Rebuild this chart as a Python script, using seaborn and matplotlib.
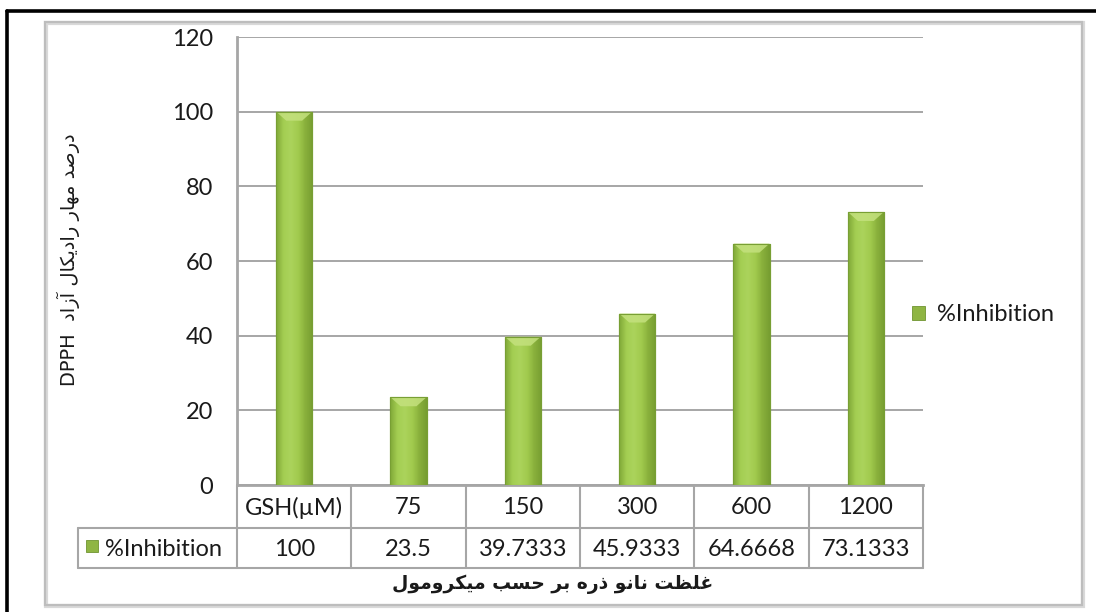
import numpy as np
import pandas as pd
import matplotlib
matplotlib.use("Agg")
import matplotlib.pyplot as plt
import seaborn as sns
from matplotlib import transforms
from matplotlib.patches import Patch, Rectangle, Polygon
from matplotlib.lines import Line2D
from matplotlib.colors import LinearSegmentedColormap
from matplotlib import font_manager
from matplotlib.ft2font import FT2Font

# ---- data -------------------------------------------------------------
categories = ["GSH(µM)", "75", "150", "300", "600", "1200"]
inhibition = [100, 23.5, 39.7333, 45.9333, 64.6668, 73.1333]
series_name = "%Inhibition"
y_ticks = [0, 20, 40, 60, 80, 100, 120]
y_title_fa = "درصد مهار رادیکال آزاد"
y_title_latin = "DPPH"
x_title_fa = "غلظت نانو ذره بر حسب میکرومول"

# ---- style ------------------------------------------------------------
sns.set_theme(style="white")
plt.rcParams["font.family"] = ["Lato", "DejaVu Sans"]
FS = 17
GRID = "#a6a6a6"
TXT = "#1a1a1a"
BAR = "#9cc64a"
BAR_EDGE = "#789f34"

# ---- simple Persian shaping (presentation forms, visual order) -------
FORMS = {
    "ا": ("\uFE8D", "\uFE8E", None, None),
    "آ": ("\uFE81", "\uFE82", None, None),
    "ب": ("\uFE8F", "\uFE90", "\uFE91", "\uFE92"),
    "ت": ("\uFE95", "\uFE96", "\uFE97", "\uFE98"),
    "ح": ("\uFEA1", "\uFEA2", "\uFEA3", "\uFEA4"),
    "د": ("\uFEA9", "\uFEAA", None, None),
    "ذ": ("\uFEAB", "\uFEAC", None, None),
    "ر": ("\uFEAD", "\uFEAE", None, None),
    "ز": ("\uFEAF", "\uFEB0", None, None),
    "س": ("\uFEB1", "\uFEB2", "\uFEB3", "\uFEB4"),
    "ص": ("\uFEB9", "\uFEBA", "\uFEBB", "\uFEBC"),
    "ظ": ("\uFEC5", "\uFEC6", "\uFEC7", "\uFEC8"),
    "غ": ("\uFECD", "\uFECE", "\uFECF", "\uFED0"),
    "ل": ("\uFEDD", "\uFEDE", "\uFEDF", "\uFEE0"),
    "م": ("\uFEE1", "\uFEE2", "\uFEE3", "\uFEE4"),
    "ن": ("\uFEE5", "\uFEE6", "\uFEE7", "\uFEE8"),
    "ه": ("\uFEE9", "\uFEEA", "\uFEEB", "\uFEEC"),
    "و": ("\uFEED", "\uFEEE", None, None),
    "ک": ("\uFB8E", "\uFB8F", "\uFB90", "\uFB91"),
    "ی": ("\uFBFC", "\uFBFD", "\uFBFE", "\uFBFF"),
}
ALT = {  # Arabic kaf / yeh forms, used when the font lacks the Persian ones
    "ک": ("\uFED9", "\uFEDA", "\uFEDB", "\uFEDC"),
    "ی": ("\uFEEF", "\uFEF0", "\uFEF3", "\uFEF4"),
}
try:
    _cmap = FT2Font(font_manager.findfont("DejaVu Sans")).get_charmap()
    for k, v in ALT.items():
        if not all(ord(g) in _cmap for g in FORMS[k]):
            FORMS[k] = v
except Exception:
    pass


def shape_fa(text):
    words = []
    for word in text.split(" "):
        chars = list(word)
        out = []
        for i, c in enumerate(chars):
            f = FORMS.get(c)
            if f is None:
                out.append(c)
                continue
            prev = FORMS.get(chars[i - 1]) if i > 0 else None
            nxt = FORMS.get(chars[i + 1]) if i + 1 < len(chars) else None
            jp = prev is not None and prev[2] is not None
            jn = nxt is not None and f[2] is not None
            if jp and jn:
                g = f[3]
            elif jp:
                g = f[1]
            elif jn:
                g = f[2]
            else:
                g = f[0]
            out.append(g)
        words.append("".join(reversed(out)))
    return " ".join(reversed(words))


# ---- figure layout (pixel helpers) -------------------------------------
W, H = 1096, 612
fig = plt.figure(figsize=(W / 100, H / 100), dpi=100)
fig.patch.set_facecolor("white")


def fx(px):
    return px / W


def fy(py):
    return 1 - py / H


# outer frame
fig.add_artist(Line2D([fx(7), fx(7)], [fy(11), 0], color="black", lw=2.6))
fig.add_artist(Line2D([fx(7), 1], [fy(11), fy(11)], color="black", lw=2.6))
# chart area border with soft shadow
fig.add_artist(Rectangle((fx(46), fy(606)), fx(1083) - fx(46), fy(23) - fy(606),
                         transform=fig.transFigure, fill=False, ec="#d9d9d9", lw=3.0))
fig.add_artist(Rectangle((fx(45), fy(605)), fx(1082) - fx(45), fy(22) - fy(605),
                         transform=fig.transFigure, fill=False, ec="#bdbdbd", lw=1.6))

ax = fig.add_axes([fx(237), fy(485), fx(923) - fx(237), fy(37) - fy(485)])

df = pd.DataFrame({"category": categories, "value": inhibition})
sns.barplot(data=df, x="category", y="value", ax=ax, width=0.315,
            color=BAR, edgecolor=BAR_EDGE, linewidth=0.8, saturation=1, zorder=3)

ax.set_xlim(-0.5, len(categories) - 0.5)
ax.set_ylim(0, 120)
ax.set_yticks(y_ticks)
ax.set_yticklabels([str(t) for t in y_ticks], fontsize=FS, color=TXT)
ax.set_xticks([])
ax.set_xlabel("")
ax.set_ylabel("")
ax.tick_params(axis="y", length=0, pad=17)
ax.yaxis.grid(True, color=GRID, lw=1.4)
ax.set_axisbelow(True)
for s in ["top", "right"]:
    ax.spines[s].set_visible(False)
for s in ["left", "bottom"]:
    ax.spines[s].set_color(GRID)
    ax.spines[s].set_linewidth(2.0)

# glossy fill for the bars: dark edges, bright body, lighter bevel on top
grad = LinearSegmentedColormap.from_list(
    "bar", ["#80a838", "#a4ce52", "#abd35c", "#a2cb4e", "#89b03c", "#779e31"])
xs = np.linspace(0, 1, 64)[None, :]
cap_px = 9
dy_per_px = 120 / (fy(37) - fy(485)) / H
for p in list(ax.patches):
    x0, w, h = p.get_x(), p.get_width(), p.get_height()
    im = ax.imshow(xs, extent=[x0, x0 + w, 0, h], aspect="auto", cmap=grad,
                   interpolation="bilinear", zorder=3.1, origin="lower")
    im.set_clip_path(p)
    cap = cap_px * dy_per_px
    ax.add_patch(Polygon([[x0, h], [x0 + w, h], [x0 + 0.72 * w, h - cap],
                          [x0 + 0.28 * w, h - cap]], closed=True,
                         fc="#c4e17e", ec="none", alpha=0.85, zorder=3.2))
    ax.add_patch(Rectangle((x0, 0), w, h, fill=False, ec=BAR_EDGE, lw=0.8, zorder=3.3))
ax.set_xlim(-0.5, len(categories) - 0.5)
ax.set_ylim(0, 120)

# ---- data table below the plot ----------------------------------------
tr = transforms.blended_transform_factory(ax.transData, fig.transFigure)
n = len(categories)
for i in range(n + 1):
    fig.add_artist(Line2D([i - 0.5, i - 0.5], [fy(485), fy(568)], transform=tr,
                          color=GRID, lw=1.5))
fig.add_artist(Line2D([fx(78), fx(78)], [fy(528), fy(568)], color=GRID, lw=1.5))
for yy in (528, 568):
    fig.add_artist(Line2D([fx(78), fx(923)], [fy(yy), fy(yy)], color=GRID, lw=1.5))
for i, (c, v) in enumerate(zip(categories, inhibition)):
    fig.text(i, fy(508), c, transform=tr, ha="center", va="center", fontsize=FS, color=TXT)
    fig.text(i, fy(549), f"{v:g}", transform=tr, ha="center", va="center",
             fontsize=FS, color=TXT)
fig.add_artist(Rectangle((fx(86), fy(552)), fx(98) - fx(86), fy(540) - fy(552),
                         transform=fig.transFigure, fc="#8fb543", ec="#6f9430", lw=0.6))
fig.text(fx(105), fy(549), series_name, ha="left", va="center", fontsize=FS, color=TXT)

# ---- legend -----------------------------------------------------------
fig.legend(handles=[Patch(fc="#8fb543", ec="#6f9430", lw=0.6)], labels=[series_name],
           loc="center left", bbox_to_anchor=(fx(912), fy(315)), frameon=False,
           borderaxespad=0, borderpad=0,
           handlelength=0.55, handleheight=0.55, handletextpad=0.5,
           prop={"size": FS}, labelcolor=TXT)

# ---- axis titles --------------------------------------------------------
fig.text(fx(68), fy(260), y_title_latin + "  " + shape_fa(y_title_fa), rotation=90,
         ha="center", va="center", fontsize=14, color=TXT,
         family=["DejaVu Sans"])
fig.text(fx(553), fy(584), shape_fa(x_title_fa), ha="center", va="center",
         fontsize=13.5, fontweight="bold", color=TXT, family=["DejaVu Sans"])

fig.savefig("out.png", dpi=100, facecolor="white")
